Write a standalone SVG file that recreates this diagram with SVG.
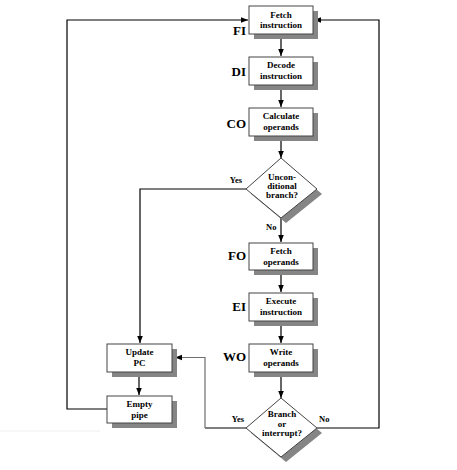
<svg xmlns="http://www.w3.org/2000/svg" width="457" height="470" viewBox="0 0 457 470">
<defs>
<marker id="ah" markerWidth="8" markerHeight="8" refX="7" refY="4" orient="auto" markerUnits="userSpaceOnUse">
<path d="M0,1.2 L7,4 L0,6.8 Z" fill="#000"/>
</marker>
<style>
.sh{fill:#858585}
.bx{fill:#fff;stroke:#444;stroke-width:1}
.t{font-family:"Liberation Serif","Times New Roman",serif;font-weight:bold;font-size:9px;text-anchor:middle;fill:#000}
.lb{font-family:"Liberation Serif","Times New Roman",serif;font-weight:bold;font-size:13px;text-anchor:end;fill:#000}
.yn{font-family:"Liberation Serif","Times New Roman",serif;font-weight:bold;font-size:8.5px;fill:#000}
.c{fill:none;stroke:#000;stroke-width:1.2}
.g{fill:none;stroke:#6e6e6e;stroke-width:1.2}
</style>
</defs>
<rect width="457" height="470" fill="#fff"/>
<line x1="0" y1="431" x2="100" y2="431" stroke="#eeeeee" stroke-width="1"/>

<g id="connectors">
<path class="c" d="M281,34 V56" marker-end="url(#ah)"/>
<path class="c" d="M281,85 V107" marker-end="url(#ah)"/>
<path class="c" d="M281,136 V158" marker-end="url(#ah)"/>
<path class="c" d="M281,218 V242" marker-end="url(#ah)"/>
<path class="c" d="M281,270 V292" marker-end="url(#ah)"/>
<path class="c" d="M281,321 V343" marker-end="url(#ah)"/>
<path class="c" d="M281,372 V398" marker-end="url(#ah)"/>
<path class="c" d="M246,189 H140 V343" marker-end="url(#ah)"/>
<path class="c" d="M139,372 V395" marker-end="url(#ah)"/>
<path class="c" d="M107,409 H67 V20 H248" marker-end="url(#ah)"/>
<path class="c" d="M317,428 H379 V20 H314" marker-end="url(#ah)"/>
<path class="c" d="M246,428 H205"/>
<path class="g" d="M205,428 V357.5 H175" marker-end="url(#ah)"/>
<text class="yn" x="242" y="183" text-anchor="end">Yes</text>
<text class="yn" x="266" y="230">No</text>
<text class="yn" x="244" y="422" text-anchor="end">Yes</text>
<text class="yn" x="319" y="422">No</text>
</g>

<g id="fi">
<rect class="sh" x="254" y="11" width="64" height="28"/>
<rect class="bx" x="249" y="6" width="64" height="28"/>
<text class="t" x="281" y="17.5">Fetch</text>
<text class="t" x="281" y="28">instruction</text>
<text class="lb" x="246" y="35">FI</text>
</g>
<g id="di">
<rect class="sh" x="254" y="62" width="64" height="28"/>
<rect class="bx" x="249" y="57" width="64" height="28"/>
<text class="t" x="281" y="67.5">Decode</text>
<text class="t" x="281" y="79">instruction</text>
<text class="lb" x="246" y="76">DI</text>
</g>
<g id="co">
<rect class="sh" x="254" y="113" width="64" height="28"/>
<rect class="bx" x="249" y="108" width="64" height="28"/>
<text class="t" x="281" y="118.5">Calculate</text>
<text class="t" x="281" y="130">operands</text>
<text class="lb" x="246" y="128">CO</text>
</g>
<g id="d1">
<polygon class="sh" points="286,164 322,194 286,223 251,194"/>
<polygon class="bx" points="281,158 317,189 281,218 246,189"/>
<text class="t" x="282" y="179.5">Uncon-</text>
<text class="t" x="282" y="188.8">ditional</text>
<text class="t" x="282" y="198">branch?</text>
</g>
<g id="fo">
<rect class="sh" x="254" y="248" width="64" height="27"/>
<rect class="bx" x="249" y="243" width="64" height="27"/>
<text class="t" x="281" y="253.5">Fetch</text>
<text class="t" x="281" y="264.5">operands</text>
<text class="lb" x="246" y="260">FO</text>
</g>
<g id="ei">
<rect class="sh" x="254" y="298" width="64" height="28"/>
<rect class="bx" x="249" y="293" width="64" height="28"/>
<text class="t" x="281" y="303.5">Execute</text>
<text class="t" x="281" y="315">instruction</text>
<text class="lb" x="246" y="311">EI</text>
</g>
<g id="wo">
<rect class="sh" x="254" y="349" width="64" height="28"/>
<rect class="bx" x="249" y="344" width="64" height="28"/>
<text class="t" x="281" y="354.5">Write</text>
<text class="t" x="281" y="366">operands</text>
<text class="lb" x="246" y="361">WO</text>
</g>
<g id="d2">
<polygon class="sh" points="286,403 322,433 286,462 251,433"/>
<polygon class="bx" points="281,398 317,428 281,457 246,428"/>
<text class="t" x="282" y="417">Branch</text>
<text class="t" x="282" y="426.5">or</text>
<text class="t" x="282" y="436">interrupt?</text>
</g>
<g id="upc">
<rect class="sh" x="112" y="349" width="65" height="28"/>
<rect class="bx" x="107" y="344" width="65" height="28"/>
<text class="t" x="139.5" y="354.5">Update</text>
<text class="t" x="139.5" y="366">PC</text>
</g>
<g id="ep">
<rect class="sh" x="112" y="401" width="65" height="27"/>
<rect class="bx" x="107" y="396" width="65" height="27"/>
<text class="t" x="139.5" y="406.5">Empty</text>
<text class="t" x="139.5" y="417.5">pipe</text>
</g>
</svg>
